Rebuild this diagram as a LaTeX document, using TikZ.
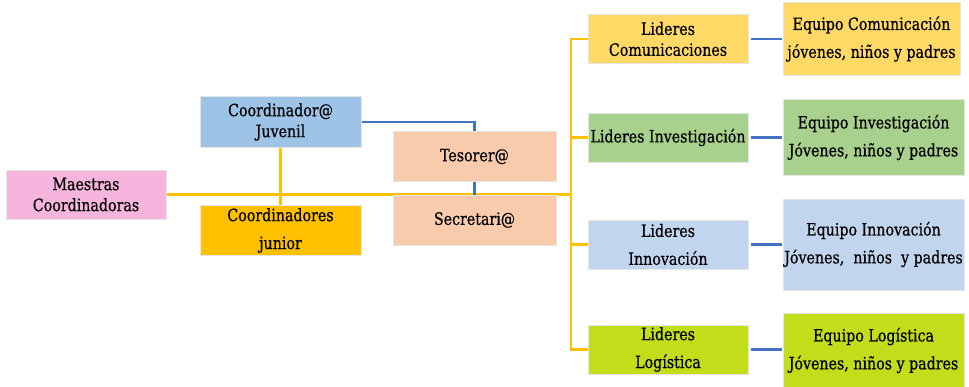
\documentclass[tikz,border=0pt]{standalone}
\usepackage{fontspec}
\setmainfont{DejaVu Serif Condensed}[FakeBold=0.6, FakeStretch=0.93]
\usetikzlibrary{positioning}
\usetikzlibrary{backgrounds}
\definecolor{cpink}{RGB}{245,181,220}
\definecolor{cblue}{RGB}{157,195,230}
\definecolor{corange}{RGB}{255,192,0}
\definecolor{cpeach}{RGB}{248,203,173}
\definecolor{cgold}{RGB}{255,217,102}
\definecolor{cgreen}{RGB}{169,209,142}
\definecolor{clight}{RGB}{194,213,238}
\definecolor{clime}{RGB}{194,221,26}
\definecolor{lyellow}{RGB}{255,192,0}
\definecolor{lblue}{RGB}{68,114,196}
\tikzset{box/.style={draw=black!10, line width=0.8pt, align=center, inner sep=0pt, font=\fontsize{14.5}{17.9}\selectfont}}
\tikzset{loose/.style={font=\fontsize{14.5}{23.8}\selectfont}}
\tikzset{mid/.style={box, minimum width=4.83cm, minimum height=1.52cm}}
\tikzset{lider/.style={box, minimum width=4.8cm, minimum height=1.47cm}}
\tikzset{equipo/.style={box, loose, minimum width=5.43cm}}
\tikzset{yline/.style={draw=lyellow, line width=2pt}}
\tikzset{bline/.style={draw=lblue, line width=2pt}}

\begin{document}
\begin{tikzpicture}[on grid, x=0.03cm, y=-0.03cm]

        \useasboundingbox (0,0) rectangle (969,386);

        \node[box, fill=cpink, minimum width=4.8cm, minimum height=1.47cm] (maes) at (86, 194.5) {Maestras\\Coordinadoras};

        \node[mid, fill=cblue] (cjuv) at (280.5, 122) {Coordinador@\\Juvenil};
        \node[mid, loose, fill=corange, below=3.255cm of cjuv] (cjun) {Coordinadores\\junior};

        \node[mid, fill=cpeach, minimum width=4.89cm] (tes) at (474.5, 156.5) {Tesorer@};
        \node[mid, fill=cpeach, minimum width=4.89cm, minimum height=1.5cm, below=1.905cm of tes] (sec) {Secretari@};

        \node[lider, fill=cgold] (lcom) at (668, 39) {Lideres\\Comunicaciones};
        \node[lider, fill=cgreen, below=2.955cm of lcom] (linv) {Lideres Investigación};
        \node[lider, loose, fill=clight, below=3.21cm of linv] (linn) {Lideres\\Innovación};
        \node[lider, loose, fill=clime, below=3.15cm of linn] (llog) {Lideres\\Logística};

        \node[equipo, fill=cgold, minimum width=5.31cm, minimum height=2.19cm, right=6.105cm of lcom] (ecom) {Equipo Comunicación\\jóvenes, niños y padres};
        \node[equipo, fill=cgreen, minimum height=2.28cm, right=6.165cm of linv] (einv) {Equipo Investigación\\Jóvenes, niños y padres};
        \node[equipo, fill=clight, minimum height=2.73cm, right=6.165cm of linn] (einn) {Equipo Innovación\\Jóvenes,~ niños~ y padres};
        \node[equipo, fill=clime, minimum height=2.25cm, right=6.165cm of llog, yshift=-0.03cm] (elog) {Equipo Logística\\Jóvenes, niños y padres};

        \coordinate (trunk) at (571, 194.5);

        \begin{pgfonlayer}{background}
        \draw[yline] (maes.east) -- (trunk);
        \draw[yline] (cjuv) -- (cjun);
        \draw[yline] (lcom.west) -| (trunk);
        \draw[yline] (llog.west) -| (trunk);
        \draw[yline] (linv.west) -- (linv.west -| trunk);
        \draw[yline] (linn.west) -- (linn.west -| trunk);

        \draw[bline] (cjuv.east) -| (tes.north);
        \draw[bline] (tes.south) -- (sec.north);
        \end{pgfonlayer}

        \foreach \l/\e in {lcom/ecom, linv/einv, linn/einn, llog/elog}
            \draw[bline, shorten <=0.09cm, shorten >=0.03cm] (\l.east) -- (\l.east -| \e.west);

    \end{tikzpicture}
\end{document}
